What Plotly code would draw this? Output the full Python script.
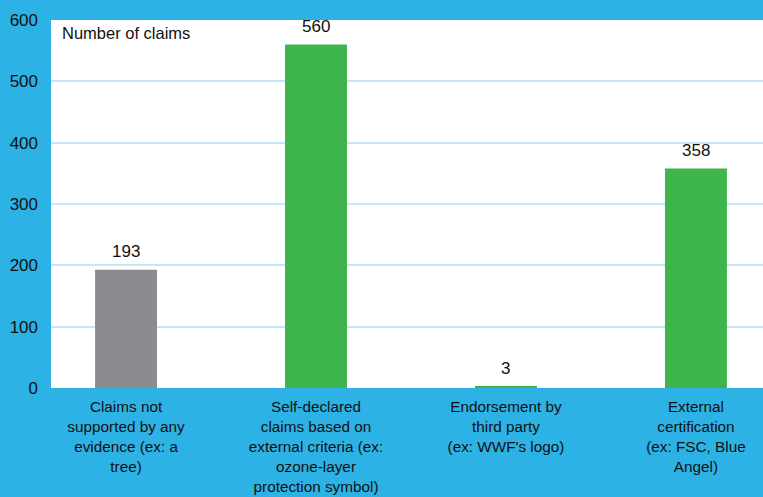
import plotly.graph_objects as go

categories = [
    "Claims not<br>supported by any<br>evidence (ex: a<br>tree)",
    "Self-declared<br>claims based on<br>external criteria (ex:<br>ozone-layer<br>protection symbol)",
    "Endorsement by<br>third party<br>(ex: WWF's logo)",
    "External<br>certification<br>(ex: FSC, Blue<br>Angel)",
]
values = [193, 560, 3, 358]
bar_colors = ["#8a8c90", "#3db54a", "#3db54a", "#3db54a"]
y_ticks = [0, 100, 200, 300, 400, 500, 600]

BLUE = "#2db2e5"
FONT = "Liberation Sans, Arial, sans-serif"

xs = list(range(len(categories)))

fig = go.Figure(
    go.Bar(
        x=xs,
        y=values,
        marker=dict(color=bar_colors, line=dict(width=0)),
        width=0.326,
        hoverinfo="skip",
    )
)

annotations = [
    dict(
        text="Number of claims",
        x=0, y=1, xref="paper", yref="paper",
        xanchor="left", yanchor="top",
        xshift=9, yshift=-2,
        showarrow=False,
        font=dict(size=16.5, color="#111111", family=FONT),
    )
]
for xi, v in zip(xs, values):
    annotations.append(
        dict(
            text=str(v), x=xi, y=v, xref="x", yref="y",
            xanchor="center", yanchor="middle", yshift=18,
            showarrow=False,
            font=dict(size=17, color="#111111", family=FONT),
        )
    )

fig.update_layout(
    width=763,
    height=497,
    margin=dict(l=51, r=0, t=20, b=109),
    paper_bgcolor=BLUE,
    plot_bgcolor="white",
    showlegend=False,
    font=dict(family=FONT, size=17, color="#111111"),
    xaxis=dict(
        tickmode="array",
        tickvals=xs,
        ticktext=categories,
        range=[-0.395, 3.353],
        showgrid=False,
        zeroline=False,
        showline=False,
        ticks="",
        tickfont=dict(size=15.3, color="#111111"),
        ticklabelstandoff=8,
        automargin=False,
    ),
    yaxis=dict(
        range=[0, 600],
        tickvals=y_ticks,
        showgrid=True,
        gridcolor="#c4e7f7",
        gridwidth=1.5,
        zeroline=False,
        showline=False,
        ticks="",
        tickfont=dict(size=17, color="#111111"),
        ticklabelstandoff=12,
        automargin=False,
    ),
    annotations=annotations,
)

fig.write_html(
    "out.html",
    config={"displayModeBar": False},
    post_script="document.body.style.margin='0';document.body.style.overflow='hidden';",
)
